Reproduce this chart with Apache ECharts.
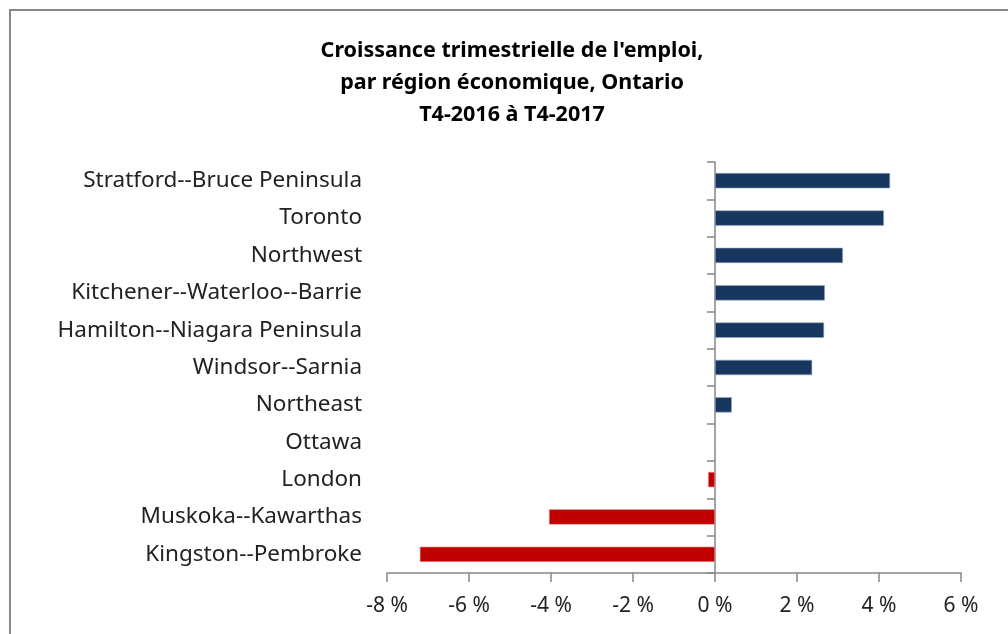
<!DOCTYPE html>
<html>
<head>
<meta charset="utf-8">
<script src="https://cdn.jsdelivr.net/npm/echarts@6/dist/echarts.min.js"></script>
<style>
  html, body { margin: 0; padding: 0; background: #fff; }
  #chart { width: 1008px; height: 634px; }
</style>
</head>
<body>
<div id="chart"></div>
<script>
// régions, du haut vers le bas
const regions = [
    'Stratford--Bruce Peninsula',
    'Toronto',
    'Northwest',
    'Kitchener--Waterloo--Barrie',
    'Hamilton--Niagara Peninsula',
    'Windsor--Sarnia',
    'Northeast',
    'Ottawa',
    'London',
    'Muskoka--Kawarthas',
    'Kingston--Pembroke'
]
// croissance en %
const growth = [4.27, 4.12, 3.12, 2.68, 2.66, 2.37, 0.41, 0, -0.17, -4.05, -7.2]
const xTicks = [-8, -6, -4, -2, 0, 2, 4, 6]

const chart = echarts.init(document.getElementById('chart'))
const font = 'Noto Sans'

chart.setOption({
    backgroundColor: '#fff',
    animation: false,
    title: {
        text: "Croissance trimestrielle de l'emploi,\npar région économique, Ontario\nT4-2016 à T4-2017",
        left: 507,
        top: 30,
        textAlign: 'center',
        textStyle: {
            fontFamily: font,
            fontSize: 21.5,
            fontWeight: 'bold',
            color: '#000',
            lineHeight: 32
        }
    },
    graphic: [{
        type: 'rect',
        shape: { x: 10, y: 10, width: 1010, height: 640 },
        style: { fill: 'none', stroke: '#888', lineWidth: 2 },
        silent: true
    }],
    grid: { left: 387, right: 47, top: 162, bottom: 61 },
    xAxis: {
        type: 'value',
        min: xTicks[0],
        max: xTicks[xTicks.length - 1],
        interval: 2,
        splitLine: { show: false },
        axisLine: { show: true, lineStyle: { color: '#868686', width: 1.5 } },
        axisTick: { show: true, length: 9, lineStyle: { color: '#868686', width: 1.5 } },
        axisLabel: {
            margin: 23,
            fontFamily: font,
            fontSize: 21,
            color: '#222',
            formatter: v => v + ' %'
        }
    },
    yAxis: [
        {
            type: 'category',
            data: regions,
            inverse: true,
            axisLine: { show: false, onZero: false },
            axisTick: { show: false },
            axisLabel: { margin: 25, fontFamily: font, fontSize: 22.5, color: '#222' }
        },
        {
            type: 'category',
            data: regions,
            inverse: true,
            position: 'left',
            axisLine: { show: true, onZero: true, lineStyle: { color: '#868686', width: 1.5 } },
            axisTick: { show: true, length: 8, lineStyle: { color: '#868686', width: 1.5 } },
            axisLabel: { show: false }
        }
    ],
    series: [{
        type: 'bar',
        yAxisIndex: 0,
        barCategoryGap: '59%',
        data: growth.map(v => ({
            value: v,
            itemStyle: {
                color: v < 0 ? '#C00000' : '#17375E',
                borderColor: v < 0 ? '#E8A0A0' : '#9AAAC0',
                borderWidth: 0.6
            }
        }))
    }]
})
</script>
</body>
</html>
